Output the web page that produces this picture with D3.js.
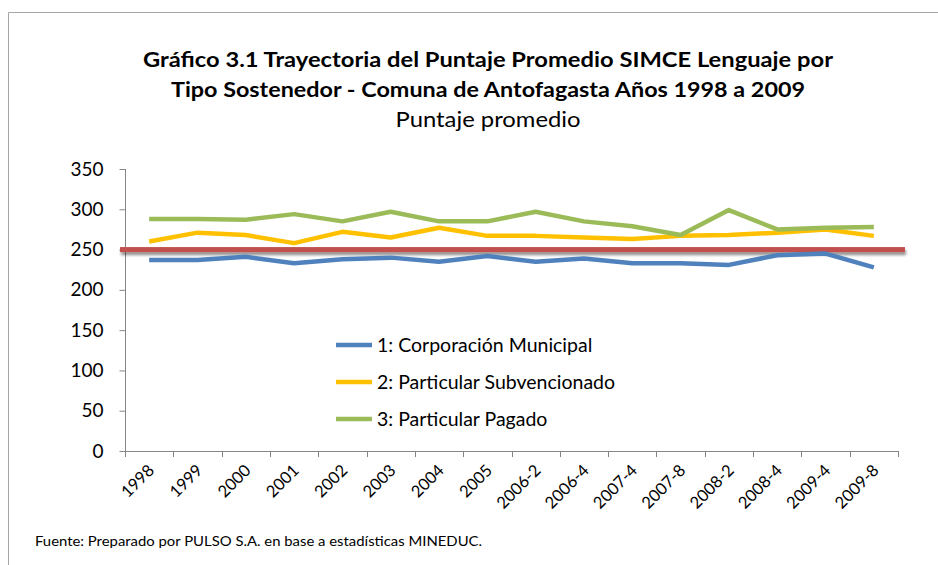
<!DOCTYPE html>
<html>
<head>
<meta charset="utf-8">
<script src="https://cdn.jsdelivr.net/npm/d3@7"></script>
<style>
  body { margin: 0; background: #fff; }
  svg { font-family: Lato, "DejaVu Sans", sans-serif; }
</style>
</head>
<body>
<script>
var categories = ["1998", "1999", "2000", "2001", "2002", "2003", "2004", "2005",
    "2006-2", "2006-4", "2007-4", "2007-8", "2008-2", "2008-4", "2009-4", "2009-8"];

var municipal = [237, 237, 241, 233, 238, 240, 235, 242, 235, 239, 233, 233, 231, 243, 245, 228];
var subvencionado = [260, 271, 268, 258, 272, 265, 277, 267, 267, 265, 263, 267, 268, 271, 275, 267];
var pagado = [288, 288, 287, 294, 285, 297, 285, 285, 297, 285, 279, 268, 299, 275, 277, 278];
var referencia = 250;

var yTicks = [0, 50, 100, 150, 200, 250, 300, 350];

var seriesNames = ["1: Corporación Municipal", "2: Particular Subvencionado", "3: Particular Pagado"];
var seriesColors = ["#4F81BD", "#FFC000", "#9BBB59"];
var seriesValues = [municipal, subvencionado, pagado];

var width = 938;
var height = 565;

var svg = d3.select("body").append("svg")
    .attr("width", width)
    .attr("height", height);

// frame
svg.append("path")
    .attr("d", "M8.5,570 V12.5 H940")
    .attr("fill", "none")
    .attr("stroke", "#a6a6a6")
    .attr("stroke-width", 1);

// titles
svg.append("text")
    .attr("x", 488).attr("y", 67)
    .attr("text-anchor", "middle")
    .attr("font-size", "21px").attr("font-weight", "bold")
    .attr("textLength", 690).attr("lengthAdjust", "spacingAndGlyphs")
    .text("Gráfico 3.1 Trayectoria del Puntaje Promedio SIMCE Lenguaje por");
svg.append("text")
    .attr("x", 488).attr("y", 97)
    .attr("text-anchor", "middle")
    .attr("font-size", "21px").attr("font-weight", "bold")
    .attr("textLength", 634).attr("lengthAdjust", "spacingAndGlyphs")
    .text("Tipo Sostenedor - Comuna de Antofagasta Años 1998 a 2009");
svg.append("text")
    .attr("x", 488).attr("y", 127)
    .attr("text-anchor", "middle")
    .attr("font-size", "21px")
    .attr("textLength", 185).attr("lengthAdjust", "spacingAndGlyphs")
    .text("Puntaje promedio");

var x = d3.scaleBand()
    .domain(categories)
    .range([125, 898]);

var y = d3.scaleLinear()
    .domain([0, 350])
    .range([451, 169]);

// y axis
var yAxis = svg.append("g")
    .attr("transform", "translate(125.5,0)")
    .call(d3.axisLeft(y).tickValues(yTicks).tickSize(6).tickPadding(16));
yAxis.select(".domain").attr("stroke", "#868686").attr("d", "M0," + y(350) + "V" + y(0));
yAxis.selectAll(".tick line").attr("stroke", "#868686");
yAxis.selectAll(".tick text")
    .attr("font-size", "19px")
    .attr("font-family", "Lato, sans-serif")
    .attr("fill", "#000");

// x axis
var xAxis = svg.append("g")
    .attr("transform", "translate(0," + (y(0) + 0.5) + ")")
    .call(d3.axisBottom(x).tickSize(0));
xAxis.select(".domain").attr("stroke", "#868686").attr("d", "M" + x.range()[0] + ",0H" + x.range()[1]);
xAxis.selectAll(".tick line").remove();
xAxis.selectAll(".tick text")
    .attr("font-size", "16.5px")
    .attr("font-family", "Lato, sans-serif")
    .attr("fill", "#000")
    .attr("text-anchor", "end")
    .attr("dy", null)
    .attr("y", 0)
    .attr("transform", "translate(6,20) rotate(-45)");

// x tick marks on category boundaries
svg.append("g").selectAll("line")
    .data(categories.concat(["end"]))
    .enter()
    .append("line")
    .attr("x1", function(d, i) { return Math.round(x.range()[0] + i * x.step()) + 0.5; })
    .attr("x2", function(d, i) { return Math.round(x.range()[0] + i * x.step()) + 0.5; })
    .attr("y1", y(0))
    .attr("y2", y(0) + 6)
    .attr("stroke", "#868686");

// shadow filter for reference line
var defs = svg.append("defs");
var f = defs.append("filter").attr("id", "sh")
    .attr("filterUnits", "userSpaceOnUse")
    .attr("x", 100).attr("y", 230).attr("width", 830).attr("height", 40);
f.append("feGaussianBlur").attr("in", "SourceAlpha").attr("stdDeviation", 1.5);
f.append("feOffset").attr("dx", 1).attr("dy", 2.5).attr("result", "b");
f.append("feComponentTransfer").append("feFuncA").attr("type", "linear").attr("slope", 0.45);
var m = f.append("feMerge");
m.append("feMergeNode");
m.append("feMergeNode").attr("in", "SourceGraphic");

// reference line at 250
svg.append("rect")
    .attr("x", x.range()[0] - 5)
    .attr("width", x.range()[1] + 7 - (x.range()[0] - 5))
    .attr("y", y(referencia) - 2.5)
    .attr("height", 5)
    .attr("fill", "#C0504D")
    .attr("filter", "url(#sh)");

var line = d3.line()
    .x(function(d, i) { return x(categories[i]) + x.bandwidth() / 2; })
    .y(function(d) { return y(d); });

svg.selectAll("path.serie")
    .data(seriesValues)
    .enter()
    .append("path")
    .attr("class", "serie")
    .attr("d", line)
    .attr("fill", "none")
    .attr("stroke", function(d, i) { return seriesColors[i]; })
    .attr("stroke-width", 4.5)
    .attr("stroke-linejoin", "round");

// legend
var legend = svg.selectAll("g.legend")
    .data(seriesNames)
    .enter()
    .append("g")
    .attr("class", "legend")
    .attr("transform", function(d, i) { return "translate(336," + (345 + i * 37) + ")"; });

legend.append("line")
    .attr("x1", 0).attr("x2", 36)
    .attr("y1", 0).attr("y2", 0)
    .attr("stroke", function(d, i) { return seriesColors[i]; })
    .attr("stroke-width", 4.5);

legend.append("text")
    .attr("x", 41)
    .attr("y", 7)
    .attr("font-size", "19.5px")
    .text(function(d) { return d; });

// footer
svg.append("text")
    .attr("x", 35)
    .attr("y", 546)
    .attr("font-size", "13px")
    .attr("textLength", 447).attr("lengthAdjust", "spacingAndGlyphs")
    .text("Fuente: Preparado por PULSO S.A. en base a estadísticas MINEDUC.");
</script>
</body>
</html>
